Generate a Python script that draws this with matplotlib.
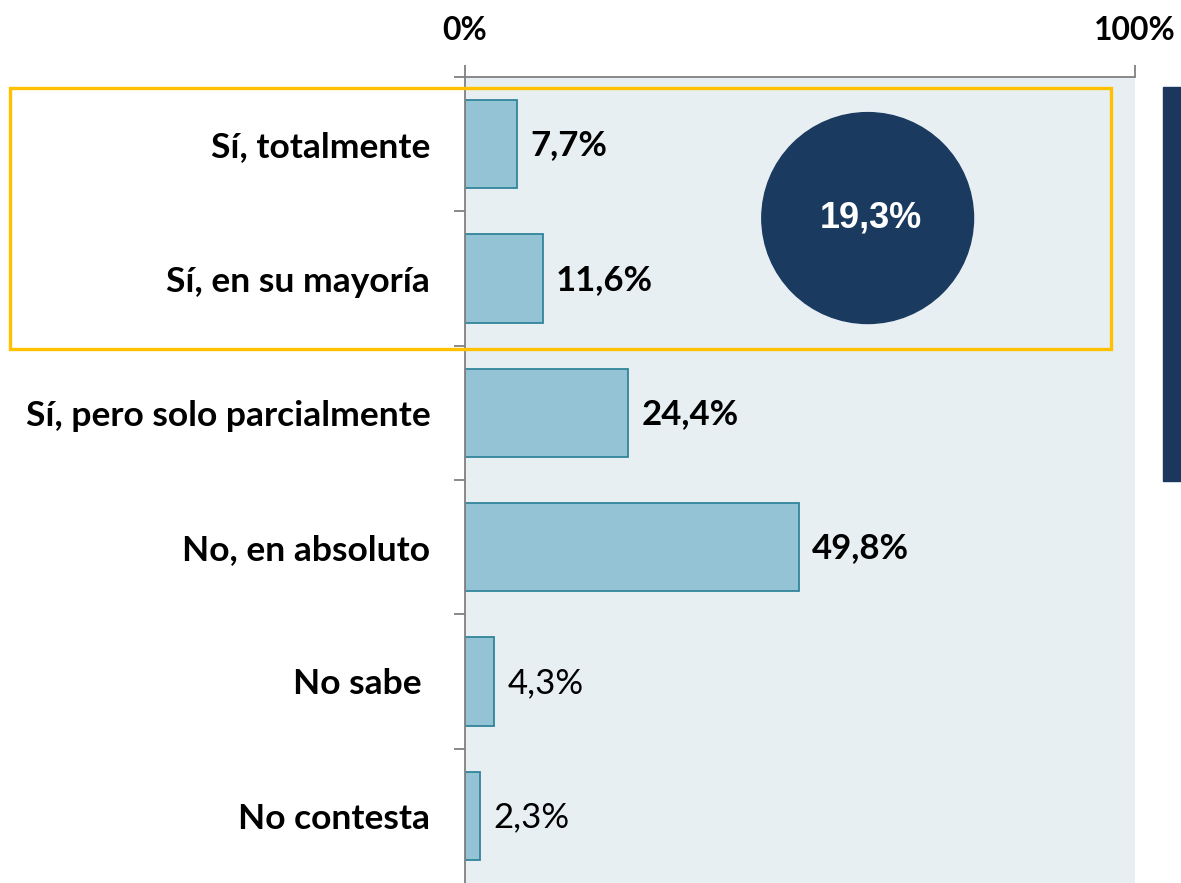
import matplotlib.pyplot as plt
from matplotlib.patches import Rectangle, Ellipse

# Survey answers and shares (%)
categories = ['Sí, totalmente', 'Sí, en su mayoría', 'Sí, pero solo parcialmente',
              'No, en absoluto', 'No sabe ', 'No contesta']
values = [7.7, 11.6, 24.4, 49.8, 4.3, 2.3]
value_labels = ['7,7%', '11,6%', '24,4%', '49,8%', '4,3%', '2,3%']
bold_value = [True, True, True, True, False, False]
total_yes = 19.3
total_label = '19,3%'

W, H = 1181, 883
fig = plt.figure(figsize=(W / 100, H / 100), dpi=100)
plt.rcParams['font.family'] = ['Lato', 'DejaVu Sans']

ax = fig.add_axes([465 / W, 0, 670 / W, (H - 77) / H])
ax.set_facecolor('#E7EFF3')

y = range(len(categories))
ax.barh(y, values, height=0.66, color='#93C3D5', edgecolor='#31849B', linewidth=1.3)

for i, (v, lab) in enumerate(zip(values, value_labels)):
    ax.text(v + 2.0, i + 0.01, lab, va='center', ha='left', fontsize=25,
            fontweight='bold' if bold_value[i] else 'normal', color='black')

ax.set_xlim(0, 100)
ax.set_ylim(len(categories) - 0.5, -0.5)

# x axis on top
ax.xaxis.tick_top()
ax.set_xticks([0, 100])
ax.set_xticklabels(['0%', '100%'], fontsize=23, fontweight='bold')
ax.tick_params(axis='x', direction='out', length=9, width=1.3, color='#808080', pad=14)

# y axis: category labels, ticks between categories
ax.set_yticks(list(y))
ax.set_yticklabels(categories, fontsize=25.5, fontweight='bold')
ax.tick_params(axis='y', which='major', length=0, pad=25)
ax.set_yticks([i - 0.5 for i in range(len(categories))], minor=True)
ax.tick_params(axis='y', which='minor', direction='out', length=8, width=1.3, color='#808080')

for s in ['right', 'bottom']:
    ax.spines[s].set_visible(False)
for s in ['top', 'left']:
    ax.spines[s].set_color('#808080')
    ax.spines[s].set_linewidth(1.3)

# circle with combined "yes" share
ax.add_patch(Ellipse((60.1, 0.55), 31.6, 1.57, color='#1B3A60', zorder=3))
ax.text(60.6, 0.55, total_label, ha='center', va='center', color='white',
        fontsize=26, fontweight='bold', family='Liberation Sans', zorder=4)

# yellow highlight box around the first two answers
fig.patches.append(Rectangle((10 / W, 1 - 349 / H), (1111 - 10) / W, (349 - 88) / H,
                             transform=fig.transFigure, fill=False,
                             edgecolor='#FFC000', linewidth=2.4, zorder=5))
# dark bar on the right edge
fig.patches.append(Rectangle((1163 / W, 1 - 481 / H), 20 / W, (481 - 87) / H,
                             transform=fig.transFigure, color='#1B375E', zorder=5))

fig.savefig('out.png', dpi=100)
